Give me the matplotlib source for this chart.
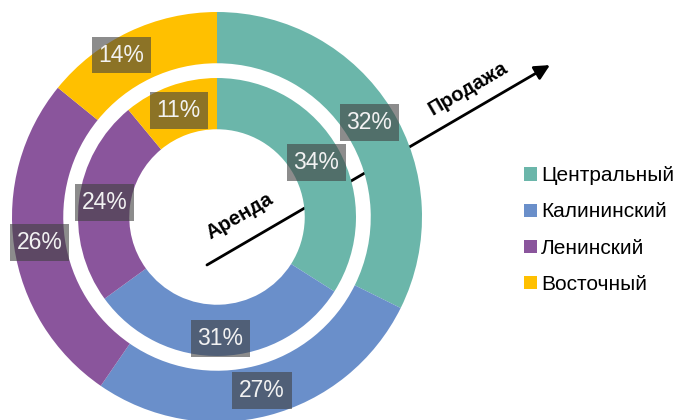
import numpy as np
import matplotlib.pyplot as plt

plt.rcParams['font.family'] = ['Liberation Sans', 'DejaVu Sans']

districts = ["Центральный", "Калининский", "Ленинский", "Восточный"]
colors = ["#6BB6AA", "#6A8FCA", "#8A559C", "#FFC000"]
sale = [32, 27, 26, 14]     # outer ring, Продажа
rent = [34, 31, 24, 11]     # inner ring, Аренда

fig = plt.figure(figsize=(6.75, 4.2), dpi=100)
# pie centre at (217, 217) px, outer radius 205 px
ax = fig.add_axes([12 / 675, -2 / 420, 410 / 675, 410 / 420])
ax.axis('off')

r_out, w_out = 1.0, 0.25
r_in, w_in = 0.678, 0.25

ax.pie(sale, radius=r_out, colors=colors, startangle=90, counterclock=False,
       wedgeprops=dict(width=w_out, edgecolor='none'))
ax.pie(rent, radius=r_in, colors=colors, startangle=90, counterclock=False,
       wedgeprops=dict(width=w_in, edgecolor='none'))
ax.set_xlim(-1, 1)
ax.set_ylim(-1, 1)
ax.set_aspect('equal')


def put_labels(vals, radius, width, nudge):
    tot = sum(vals)
    cum = 0
    for i, v in enumerate(vals):
        frac = (cum + v / 2) / tot
        cum += v
        ang = np.deg2rad(90 - 360 * frac)
        r = radius - width / 2
        dx, dy = nudge.get(i, (0, 0))
        ax.text(r * np.cos(ang) + dx, r * np.sin(ang) + dy, f"{v}%",
                ha='center', va='center', fontsize=16.5, color='#F2F2F2', zorder=5,
                bbox=dict(boxstyle='square,pad=0.3', fc='#404040', ec='none', alpha=0.6))


put_labels(sale, r_out, w_out, {3: (-0.09, 0)})
put_labels(rent, r_in, w_in, {1: (0, -0.04)})

# arrow behind the rings
ax.annotate("", xy=(1.624, 0.741), xytext=(-0.049, -0.234), xycoords='data',
            annotation_clip=False, zorder=0.5,
            arrowprops=dict(arrowstyle='-|>,head_length=0.9,head_width=0.45',
                            color='black', lw=2, shrinkA=0, shrinkB=0))
ax.text(0.112, 0.005, "Аренда", rotation=30.2, fontsize=14.5, fontweight='bold',
        ha='center', va='center', rotation_mode='anchor')
ax.text(1.225, 0.627, "Продажа", rotation=30.2, fontsize=14.5, fontweight='bold',
        ha='center', va='center', rotation_mode='anchor', clip_on=False)

handles = [plt.Rectangle((0, 0), 1, 1, fc=c, ec='none') for c in colors]
fig.legend(handles, districts, loc='center left', bbox_to_anchor=(516 / 675, 1 - 230 / 420),
           frameon=False, fontsize=15, handlelength=0.6, handleheight=0.6,
           handletextpad=0.2, labelspacing=0.82, borderaxespad=0)

fig.savefig("out.png", dpi=100)
